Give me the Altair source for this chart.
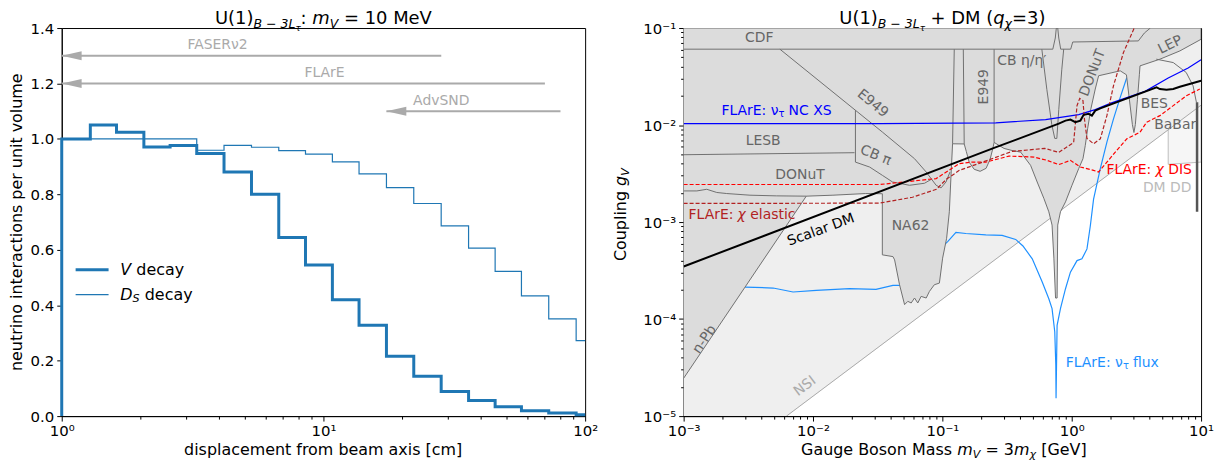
import json
import altair as alt
import pandas as pd

FONT = "DejaVu Sans"
WL, WR, H = 526, 520, 390

# ---------------- left panel data ----------------
bin_edges = [1.0, 1.286, 1.619, 2.06, 2.595, 3.28, 4.17, 5.31, 6.75, 8.54, 10.82,
             13.68, 17.41, 22.14, 28.18, 35.86, 45.3, 57.1, 72.6, 92.4, 100.0]
v_decay = [1.00, 1.05, 1.024, 0.971, 0.976, 0.947, 0.881, 0.80, 0.644, 0.545,
           0.42, 0.328, 0.216, 0.144, 0.089, 0.056, 0.034, 0.019, 0.011, 0.005]
ds_decay = [1.0, 1.0, 1.0, 1.0, 1.0, 0.959, 0.977, 0.97, 0.958, 0.945,
            0.917, 0.874, 0.824, 0.767, 0.686, 0.606, 0.522, 0.434, 0.351, 0.272]

arrow_names = ["FASERν2", "FLArE", "AdvSND"]
arrow_tip = [1.0, 1.0, 17.4]
arrow_end = [28.2, 70.2, 80.5]
arrow_y = [1.3, 1.2, 1.1]
arrow_label_x = [3.94, 10.1, 28.2]
arrow_label_y = [1.337, 1.237, 1.138]

legend_line_x = [1.13, 1.51]
legend_text_x = 1.675
legend_y = [0.528, 0.438]

lx_major = [1, 10, 100]
lx_labels = ["10⁰", "10¹", "10²"]
ly_ticks = [0, 0.2, 0.4, 0.6, 0.8, 1.0, 1.2, 1.4]

# ---------------- right panel data (log10 mass [GeV], log10 coupling) ----------------
rx_major = [0.001, 0.01, 0.1, 1, 10]
rx_labels = ["10⁻³", "10⁻²", "10⁻¹", "10⁰", "10¹"]
ry_major = [1e-05, 0.0001, 0.001, 0.01, 0.1]
ry_labels = ["10⁻⁵", "10⁻⁴", "10⁻³", "10⁻²", "10⁻¹"]
minor_mult = [2, 3, 4, 5, 6, 7, 8, 9]

nsi_logm = [-2.205, 1.0, 1.0, -3.0, -3.0]
nsi_logg = [-5.0, -1.795, -1.0, -1.0, -5.0]
nsi_line_logm = [-2.205, 1.0]
nsi_line_logg = [-5.0, -1.795]

dmdd_logm = [0.746, 0.746, 1.0, 1.0]
dmdd_logg = [-2.049, -2.405, -2.382, -1.795]

dark_logm = [-3.0, -2.052, -1.846, -1.592, -1.464, -1.464, -1.382, -1.369, -1.331, -1.292,
             -1.267, -1.241, -1.215, -1.19, -1.164, -1.125, -1.1, -1.062, -1.023, -0.998,
             -0.967, -0.946, -0.933, -0.921, -0.831, -0.815, -0.792, -0.754, -0.708, -0.662,
             -0.631, -0.608, -0.6, -0.523, -0.462, -0.395, -0.318, -0.267, -0.215, -0.177,
             -0.152, -0.138, -0.125, -0.113, -0.108, -0.087, -0.048, 0.002, 0.054, 0.087,
             0.105, 0.123, 0.148, 0.182, 0.208, 0.375, 0.423, 0.446, 0.469, 0.481,
             0.492, 0.508, 0.523, 0.528, 0.682, 0.836, 1.0, 1.0, -3.0]
dark_logg = [-4.61, -2.733, -2.723, -2.706, -2.708, -3.338, -3.356, -3.39, -3.646, -3.851,
             -3.817, -3.834, -3.783, -3.834, -3.766, -3.783, -3.715, -3.646, -3.629, -3.372,
             -3.167, -2.894, -2.518, -2.193, -2.195, -2.272, -2.385, -2.456, -2.477, -2.446,
             -2.354, -2.231, -2.179, -2.241, -2.262, -2.279, -2.415, -2.587, -2.757, -2.894,
             -3.031, -3.372, -3.783, -3.783, -3.031, -2.894, -2.792, -2.621, -2.449, -2.347,
             -2.21, -2.039, -1.834, -1.629, -1.492, -1.441, -1.482, -1.738, -1.995, -2.077,
             -1.995, -1.738, -1.482, -1.39, -1.321, -1.236, -1.116, -1.0, -1.0]

cdf_logm = [-3.0, -0.146, -0.127, -0.119, -0.108, -0.1, -0.085, -0.008, 0.008, 0.515, 0.562, 0.608]
cdf_logg = [-1.218, -1.218, -1.103, -1.0, -1.0, -1.103, -1.218, -1.218, -1.144, -1.133, -1.051, -1.0]
e949_logm = [-2.256, -1.462, -1.215, -1.125, -1.048, -1.01, -0.972, -0.941]
e949_logg = [-1.218, -2.074, -2.347, -2.484, -2.621, -2.648, -2.587, -2.484]
lesb_logm = [-3.0, -1.679]
lesb_logg = [-2.306, -2.285]
cbpi_logm = [-1.672, -1.672, -1.562, -1.464, -1.385, -1.254, -1.138, -1.085]
cbpi_logg = [-1.847, -2.382, -2.433, -2.518, -2.587, -2.621, -2.6, -2.559]
donut_logm = [-3.0, -2.898, -2.821, -2.744, -2.667, -2.487, -2.282, -2.052]
donut_logg = [-2.679, -2.679, -2.662, -2.695, -2.706, -2.723, -2.73, -2.733]
na62_top_logm = [-0.921, -0.908]
na62_top_logg = [-2.193, -1.218]
e949u_left_logm = [-0.831, -0.838]
e949u_left_logg = [-2.195, -1.218]
e949u_right_logm = [-0.6, -0.6]
e949u_right_logg = [-2.179, -1.218]
cbeta_logm = [-0.231, -0.192, -0.154, -0.131, -0.115, -0.1, -0.077, -0.062]
cbeta_logg = [-1.218, -1.636, -1.995, -2.138, -2.138, -1.841, -1.431, -1.218]
babar_logm = [0.654, 0.785, 0.885, 0.938, 0.964]
babar_logg = [-1.321, -1.356, -1.458, -1.595, -1.766]
upsilon_logm = [0.969, 0.969]
upsilon_logg = [-1.766, -2.894]

ncxs_logm = [-3.0, -1.485, -0.587, -0.202, 0.054, 0.182, 0.308, 0.567, 0.746, 0.9, 1.0]
ncxs_logg = [-1.985, -1.985, -1.977, -1.944, -1.892, -1.841, -1.772, -1.653, -1.516, -1.413, -1.328]

flux_logm = [-2.525, -2.308, -2.154, -1.975, -1.718, -1.513, -1.382, -1.321, -0.959, -0.895,
             -0.818, -0.664, -0.538, -0.433, -0.377, -0.305, -0.228, -0.177, -0.152, -0.131,
             -0.123, -0.121, -0.113, -0.087, -0.048, -0.01, 0.041, 0.079, 0.118, 0.144,
             0.169, 0.221, 0.272, 0.323, 0.375, 0.426]
flux_logg = [-3.67, -3.68, -3.721, -3.705, -3.687, -3.694, -3.653, -3.653, -3.202, -3.106,
             -3.118, -3.133, -3.138, -3.179, -3.246, -3.379, -3.618, -3.79, -3.892, -4.131,
             -4.474, -4.815, -4.064, -3.892, -3.687, -3.516, -3.397, -3.379, -3.277, -3.038,
             -2.764, -2.449, -2.176, -1.936, -1.715, -1.51]

dis_logm = [-3.0, -1.485, -1.1, -1.048, -0.869, -0.769, -0.664, -0.485, -0.292, -0.19,
            -0.1, -0.01, 0.067, 0.169, 0.208, 0.272, 0.348, 0.426, 0.528, 0.579,
            0.682, 0.785, 0.887, 0.99]
dis_logg = [-2.613, -2.613, -2.559, -2.552, -2.398, -2.382, -2.382, -2.32, -2.33, -2.364,
            -2.408, -2.364, -2.433, -2.467, -2.484, -2.382, -2.262, -2.142, -2.074, -1.971,
            -1.903, -1.8, -1.697, -1.629]

el_logm = [-3.0, -1.485, -1.231, -1.046, -0.969, -0.869, -0.715, -0.462, -0.208, -0.1,
           0.015, 0.041, 0.062, 0.087, 0.098, 0.118, 0.169, 0.221, 0.272, 0.323, 0.4, 0.49]
el_logg = [-2.808, -2.805, -2.744, -2.662, -2.559, -2.467, -2.395, -2.272, -2.241, -2.282,
           -2.179, -1.8, -1.725, -1.749, -1.933, -2.138, -2.193, -2.142, -1.903, -1.595, -1.253, -0.979]

sdm_logm = [-3.0, -0.6, -0.1, -0.048, -0.01, 0.028, 0.067, 0.092, 0.131, 0.156,
            0.182, 0.221, 0.656, 0.682, 0.733, 0.785, 0.836, 1.0]
sdm_logg = [-3.458, -2.236, -1.985, -1.954, -1.944, -1.971, -1.954, -1.895, -1.885, -1.903,
            -1.851, -1.828, -1.612, -1.629, -1.636, -1.629, -1.605, -1.544]

region_names = ["CDF", "E949", "E949", "CB η/η′", "LESB", "CB π", "DONuT", "NA62",
                "DONuT", "LEP", "BES", "BaBar", "n-Pb", "NSI", "DM DD"]
region_logm = [-2.415, -1.538, -0.677, -0.385, -2.385, -1.515, -2.1, -1.246,
               0.162, 0.762, 0.638, 0.8, -2.838, -2.062, 0.738]
region_logg = [-1.108, -1.779, -1.605, -1.338, -2.169, -2.313, -2.518, -3.041,
               -1.462, -1.174, -1.779, -1.995, -4.21, -4.692, -2.651]
# styles for the region labels (angle, colour)
region_angle = [0, 39, 270, 0, 0, 22, 0, 0, 291, 334, 0, 0, 304, 323, 0]
region_color = ["#666666"] * 13 + ["#aaaaaa", "#bbbbbb"]

sdm_label_pos = (-1.938, -3.082)
ncxs_label_pos = (-2.708, -1.851)
el_label_pos = (-2.962, -2.928)
dis_label_pos = (0.615, -2.467)
flux_label_pos = (-0.046, -4.456)

# ---------------- helpers ----------------
CW = {' ': 0.318, '(': 0.39, ')': 0.39, '[': 0.39, ']': 0.39, ':': 0.337, '=': 0.838,
      '+': 0.838, '−': 0.838, '-': 0.361, '.': 0.318,
      'A': 0.684, 'B': 0.686, 'C': 0.698, 'D': 0.77, 'E': 0.632, 'F': 0.575, 'G': 0.775,
      'L': 0.557, 'M': 0.863, 'N': 0.748, 'S': 0.635, 'U': 0.732, 'V': 0.684, 'X': 0.685,
      'R': 0.695, 'T': 0.611,
      'a': 0.613, 'b': 0.635, 'c': 0.55, 'd': 0.635, 'e': 0.615, 'f': 0.352, 'g': 0.635,
      'i': 0.278, 'l': 0.278, 'm': 0.974, 'n': 0.634, 'o': 0.612, 'p': 0.635, 'q': 0.635,
      'r': 0.411, 's': 0.521, 't': 0.392, 'u': 0.634, 'v': 0.592, 'x': 0.592, 'y': 0.592,
      'τ': 0.56, 'χ': 0.6, 'ν': 0.59, 'η': 0.63, 'π': 0.6}
for d in "0123456789":
    CW[d] = 0.636


def tw(s, size):
    return sum(CW.get(c, 0.6) for c in s) * size


def split_lead(t, s):
    lead = len(t) - len(t.lstrip(" "))
    return t.strip(" "), tw(" " * lead, s)


ONE = pd.DataFrame({"k": [0]})


def txt_px(text, x, y, size, style="normal", color="black", angle=0):
    kw = dict(text=text, fontSize=size, fontStyle=style, color=color, align="left",
              baseline="alphabetic", font=FONT)
    if angle:
        kw["angle"] = angle
    return alt.Chart(ONE).mark_text(**kw).encode(x=alt.value(x), y=alt.value(y))


def rich_px(parts, cx, y, angle=0, color="black"):
    total = sum(tw(t, s) for t, s, st, d in parts)
    out, pos = [], 0.0
    for t, s, st, d in parts:
        txt, lead = split_lead(t, s)
        p = pos + lead
        if angle == 0:
            out.append(txt_px(txt, cx - total / 2 + p, y + d, s, st, color))
        else:
            out.append(txt_px(txt, cx + d, y + total / 2 - p, s, st, color, angle=270))
        pos += tw(t, s)
    return out


def rich_data(parts, x, y, xs, ys, xa, ya, color, anchor="left"):
    total = sum(tw(t, s) for t, s, st, d in parts)
    pos = 0.0 if anchor == "left" else -total / 2
    df = pd.DataFrame({"x": [x], "y": [y]})
    out = []
    for t, s, st, d in parts:
        txt, lead = split_lead(t, s)
        out.append(alt.Chart(df).mark_text(text=txt, fontSize=s, fontStyle=st, color=color,
                                           align="left", baseline="middle", dx=pos + lead, dy=d,
                                           font=FONT)
                   .encode(x=alt.X("x:Q", scale=xs, axis=xa),
                           y=alt.Y("y:Q", scale=ys, axis=ya)))
        pos += tw(t, s)
    return out


def log_axis(major, labels):
    minors = [round(k * v, 12) for v in major[:-1] for k in minor_mult]
    vals = sorted(major + minors)
    test = "indexof(" + json.dumps(major) + ", datum.value) >= 0"
    expr = "".join(f"datum.value == {v!r} ? '{l}' : " for v, l in zip(major, labels)) + "''"
    return alt.Axis(values=vals, labelExpr=expr,
                    tickSize={"condition": {"test": test, "value": 5}, "value": 3},
                    title=None, grid=False, labelFlush=False, labelOverlap=False)


def pts(logm, logg):
    return pd.DataFrame({"i": list(range(len(logm))),
                         "m": [10 ** v for v in logm],
                         "g": [10 ** v for v in logg]})


xl = alt.Scale(type="log", domain=[1, 100], nice=False)
yl = alt.Scale(type="linear", domain=[0, 1.4], nice=False, zero=False)
xr = alt.Scale(type="log", domain=[1e-3, 10], nice=False)
yr = alt.Scale(type="log", domain=[1e-5, 1e-1], nice=False)

XA_L = log_axis(lx_major, lx_labels)
YA_L = alt.Axis(values=ly_ticks, format=".1f", tickSize=5, title=None, grid=False)
XA_R = log_axis(rx_major, rx_labels)
YA_R = log_axis(ry_major, ry_labels)


def LX(f):
    return alt.X(f, scale=xl, axis=XA_L)


def LY(f):
    return alt.Y(f, scale=yl, axis=YA_L)


def RX(f):
    return alt.X(f, scale=xr, axis=XA_R)


def RY(f):
    return alt.Y(f, scale=yr, axis=YA_R)


def rline(logm, logg, stroke, width, dash=None, fill=None):
    kw = dict(stroke=stroke, strokeWidth=width, clip=True)
    if dash:
        kw["strokeDash"] = dash
    if fill:
        kw["fill"] = fill
    return alt.Chart(pts(logm, logg)).mark_line(**kw).encode(
        x=RX("m:Q"), y=RY("g:Q"), order="i:Q")


# ---------------- left panel ----------------
def step_df(vals):
    xs = [bin_edges[0]] + bin_edges
    ys = [0.0] + vals + [vals[-1]]
    return pd.DataFrame({"i": list(range(len(xs))), "x": xs, "y": ys})


step_v = alt.Chart(step_df(v_decay)).mark_line(
    interpolate="step-after", color="#1f77b4", strokeWidth=3).encode(
    x=LX("x:Q"), y=LY("y:Q"), order="i:Q")
step_ds = alt.Chart(step_df(ds_decay)).mark_line(
    interpolate="step-after", color="#1f77b4", strokeWidth=1.2).encode(
    x=LX("x:Q"), y=LY("y:Q"), order="i:Q")

arrow_df = pd.DataFrame({"x1": arrow_tip, "x2": arrow_end, "y": arrow_y,
                         "lx": arrow_label_x, "ly": arrow_label_y, "name": arrow_names})
arrow_rules = alt.Chart(arrow_df).mark_rule(color="#aaaaaa", strokeWidth=2).encode(
    x=LX("x1:Q"), x2="x2:Q", y=LY("y:Q"))
arrow_heads = alt.Chart(arrow_df).mark_point(
    shape="M 0 0 L 2 -0.45 L 2 0.45 Z", size=400, filled=True, color="#aaaaaa",
    opacity=1, strokeWidth=0).encode(x=LX("x1:Q"), y=LY("y:Q"))
arrow_text = alt.Chart(arrow_df).mark_text(
    color="#aaaaaa", fontSize=14, font=FONT, baseline="middle").encode(
    x=LX("lx:Q"), y=LY("ly:Q"), text="name:N")

leg_df = pd.DataFrame({"x1": [legend_line_x[0]] * 2, "x2": [legend_line_x[1]] * 2,
                       "y": legend_y, "k": [0, 1]})
leg_v = alt.Chart(leg_df).transform_filter("datum.k == 0").mark_rule(
    color="#1f77b4", strokeWidth=3).encode(x=LX("x1:Q"), x2="x2:Q", y=LY("y:Q"))
leg_ds = alt.Chart(leg_df).transform_filter("datum.k == 1").mark_rule(
    color="#1f77b4", strokeWidth=1.2).encode(x=LX("x1:Q"), x2="x2:Q", y=LY("y:Q"))
leg_text = (rich_data([("V", 16, "italic", 0), (" decay", 16, "normal", 0)],
                      legend_text_x, legend_y[0], xl, yl, XA_L, YA_L, "black")
            + rich_data([("D", 16, "italic", 0), ("S", 11.2, "italic", 4),
                         (" decay", 16, "normal", 0)],
                        legend_text_x, legend_y[1], xl, yl, XA_L, YA_L, "black"))

TITLE_Y = -4.5
left_title = rich_px([("U(1)", 18, "normal", 0), ("B − 3L", 12.6, "italic", 4.5),
                      ("τ", 9, "italic", 7), (": ", 18, "normal", 0), ("m", 18, "italic", 0),
                      ("V", 12.6, "italic", 4.5), (" = 10 MeV", 18, "normal", 0)],
                     WL / 2, TITLE_Y)
left_xtitle = rich_px([("displacement from beam axis [cm]", 16, "normal", 0)], WL / 2, H + 38.7)
left_ytitle = rich_px([("neutrino interactions per unit volume", 16, "normal", 0)],
                      -40, H / 2, angle=270)

left = alt.layer(step_v, step_ds, arrow_rules, arrow_heads, arrow_text, leg_v, leg_ds,
                 *leg_text, *left_title, *left_xtitle, *left_ytitle).properties(
    width=WL, height=H)

# ---------------- right panel ----------------
right_layers = [
    rline(nsi_logm, nsi_logg, "#efefef", 0.5, fill="#efefef"),
    rline(dmdd_logm, dmdd_logg, "#bdbdbd", 1, fill="#f6f6f6"),
    rline(nsi_line_logm, nsi_line_logg, "#a8a8a8", 1),
    rline(flux_logm, flux_logg, "#1e90ff", 1.2),
    rline(dark_logm, dark_logg, "#707070", 1, fill="#dcdcdc"),
]
for lm, lg in [(cdf_logm, cdf_logg), (e949_logm, e949_logg), (lesb_logm, lesb_logg),
               (cbpi_logm, cbpi_logg), (donut_logm, donut_logg),
               (na62_top_logm, na62_top_logg), (e949u_left_logm, e949u_left_logg),
               (e949u_right_logm, e949u_right_logg), (cbeta_logm, cbeta_logg),
               (babar_logm, babar_logg)]:
    right_layers.append(rline(lm, lg, "#707070", 1))
right_layers += [
    rline(upsilon_logm, upsilon_logg, "#555555", 2.5),
    rline(ncxs_logm, ncxs_logg, "#0000ff", 1.2),
    rline(dis_logm, dis_logg, "#ff0000", 1.2, dash=[4, 2]),
    rline(el_logm, el_logg, "#b22222", 1.2, dash=[4, 2]),
    rline(sdm_logm, sdm_logg, "black", 2),
]
for name, lm, lg, ang, col in zip(region_names, region_logm, region_logg, region_angle, region_color):
    df = pd.DataFrame({"m": [10 ** lm], "g": [10 ** lg], "t": [name]})
    kw = dict(color=col, fontSize=14, font=FONT, baseline="middle", align="center")
    if ang:
        kw["angle"] = ang
    right_layers.append(alt.Chart(df).mark_text(**kw).encode(
        x=RX("m:Q"), y=RY("g:Q"), text="t:N"))

sdm_df = pd.DataFrame({"m": [10 ** sdm_label_pos[0]], "g": [10 ** sdm_label_pos[1]], "t": ["Scalar DM"]})
right_layers.append(alt.Chart(sdm_df).mark_text(
    color="black", fontSize=14, font=FONT, baseline="middle", align="center", angle=340).encode(
    x=RX("m:Q"), y=RY("g:Q"), text="t:N"))

right_layers += rich_data([("FLArE: ν", 14, "normal", 0), ("τ", 10, "normal", 3),
                           (" NC XS", 14, "normal", 0)],
                          10 ** ncxs_label_pos[0], 10 ** ncxs_label_pos[1], xr, yr, XA_R, YA_R,
                          "#0000ff")
right_layers += rich_data([("FLArE: ", 14, "normal", 0), ("χ", 14, "italic", 0),
                           (" elastic", 14, "normal", 0)],
                          10 ** el_label_pos[0], 10 ** el_label_pos[1], xr, yr, XA_R, YA_R,
                          "#b22222")
right_layers += rich_data([("FLArE: ", 14, "normal", 0), ("χ", 14, "italic", 0),
                           (" DIS", 14, "normal", 0)],
                          10 ** dis_label_pos[0], 10 ** dis_label_pos[1], xr, yr, XA_R, YA_R,
                          "#ff0000", anchor="center")
right_layers += rich_data([("FLArE: ν", 14, "normal", 0), ("τ", 10, "normal", 3),
                           (" flux", 14, "normal", 0)],
                          10 ** flux_label_pos[0], 10 ** flux_label_pos[1], xr, yr, XA_R, YA_R,
                          "#1e90ff")

right_layers += rich_px([("U(1)", 18, "normal", 0), ("B − 3L", 12.6, "italic", 4.5),
                         ("τ", 9, "italic", 7), (" + DM (", 18, "normal", 0),
                         ("q", 18, "italic", 0), ("χ", 12.6, "italic", 4.5),
                         ("=3)", 18, "normal", 0)], WR / 2, TITLE_Y)
right_layers += rich_px([("Gauge Boson Mass ", 16, "normal", 0), ("m", 16, "italic", 0),
                         ("V", 11.2, "italic", 3.5), (" = 3", 16, "normal", 0),
                         ("m", 16, "italic", 0), ("χ", 11.2, "italic", 3.5),
                         (" [GeV]", 16, "normal", 0)], WR / 2 + 1.5, H + 38.7)
right_layers += rich_px([("Coupling ", 16, "normal", 0), ("g", 16, "italic", 0),
                         ("V", 11.2, "italic", 3.5)], -58, 187.5, angle=270)

right = alt.layer(*right_layers).properties(width=WR, height=H)

chart = alt.hconcat(left, right, spacing=13,
                    padding={"left": 0, "top": 0, "right": 0, "bottom": 0}).configure_view(
    stroke="black", strokeWidth=1).configure_axis(
    labelFont=FONT, labelFontSize=15, labelColor="black", tickColor="black",
    domainColor="black", tickWidth=1, domainWidth=1, labelPadding=3)

chart.save("out.html", embed_options={"renderer": "svg", "actions": False})
